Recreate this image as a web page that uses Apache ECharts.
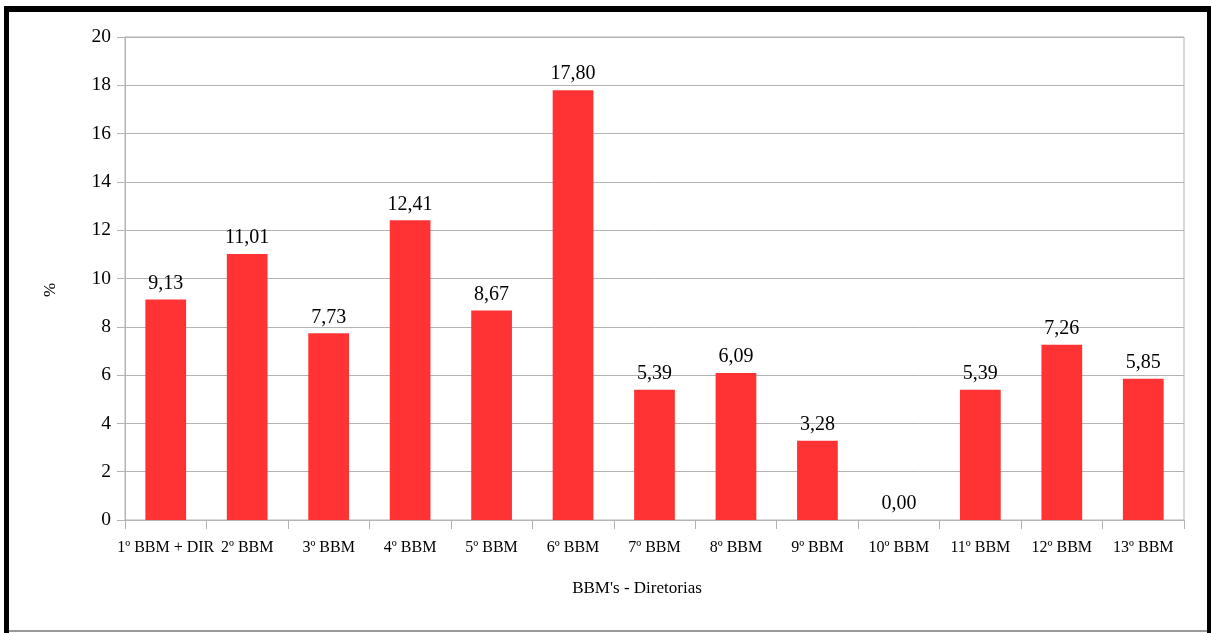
<!DOCTYPE html>
<html>
<head>
<meta charset="utf-8">
<style>
  html, body { margin: 0; padding: 0; background: #fff; }
  #chart { width: 1211px; height: 633px; }
</style>
<script src="https://cdn.jsdelivr.net/npm/echarts@6/dist/echarts.min.js"></script>
</head>
<body>
<div id="chart"></div>
<script>
// Participation per unit (%)
const categories = ['1º BBM + DIR', '2º BBM', '3º BBM', '4º BBM', '5º BBM', '6º BBM', '7º BBM',
                    '8º BBM', '9º BBM', '10º BBM', '11º BBM', '12º BBM', '13º BBM'];
const percentages = [9.13, 11.01, 7.73, 12.41, 8.67, 17.80, 5.39, 6.09, 3.28, 0.00, 5.39, 7.26, 5.85];
const yTicks = { min: 0, max: 20, interval: 2 };
const xTitle = "BBM's - Diretorias";
const yTitle = '%';

const FONT = '"Liberation Serif", "DejaVu Serif", serif';
const GRID_GRAY = '#b3b3b3';

const chart = echarts.init(document.getElementById('chart'), null, { renderer: 'canvas' });

chart.setOption({
  backgroundColor: '#ffffff',
  animation: false,
  grid: { left: 125, top: 37, right: 27, bottom: 113, show: true, borderColor: GRID_GRAY, borderWidth: 1 },
  xAxis: {
    type: 'category',
    data: categories,
    axisLine: { lineStyle: { color: GRID_GRAY, width: 1 } },
    axisTick: { show: true, length: 9, lineStyle: { color: GRID_GRAY } },
    axisLabel: { fontFamily: FONT, fontSize: 16, color: '#000', margin: 20, interval: 0 }
  },
  yAxis: {
    type: 'value',
    min: yTicks.min,
    max: yTicks.max,
    interval: yTicks.interval,
    axisLine: { show: true, lineStyle: { color: GRID_GRAY, width: 1 } },
    axisTick: { show: true, length: 8, lineStyle: { color: GRID_GRAY } },
    splitLine: { lineStyle: { color: GRID_GRAY, width: 1 } },
    axisLabel: { fontFamily: FONT, fontSize: 19.5, color: '#000', margin: 14 }
  },
  series: [{
    type: 'bar',
    data: percentages,
    barWidth: '50%',
    itemStyle: { color: '#ff3333' },
    label: {
      show: true,
      position: 'top',
      distance: 6,
      fontFamily: FONT,
      fontSize: 20,
      color: '#000',
      formatter: p => p.value.toFixed(2).replace('.', ',')
    }
  }],
  graphic: [
    // axis titles
    {
      type: 'text', x: 637, y: 589,
      style: { text: xTitle, font: '17px ' + FONT, fill: '#000', align: 'center', verticalAlign: 'middle' }
    },
    {
      type: 'text', x: 51, y: 290, rotation: Math.PI / 2,
      style: { text: yTitle, font: '17px ' + FONT, fill: '#000', align: 'center', verticalAlign: 'middle' }
    },
    // page frame: heavy black on top, left and right, thin gray at the bottom
    { type: 'rect', shape: { x: 4, y: 6, width: 1207, height: 6 }, style: { fill: '#000' }, z: 100 },
    { type: 'rect', shape: { x: 4, y: 6, width: 5, height: 627 }, style: { fill: '#000' }, z: 100 },
    { type: 'rect', shape: { x: 1207, y: 6, width: 4, height: 627 }, style: { fill: '#000' }, z: 100 },
    { type: 'rect', shape: { x: 9, y: 630, width: 1198, height: 2 }, style: { fill: '#9a9a9a' }, z: 100 }
  ]
});
</script>
</body>
</html>
